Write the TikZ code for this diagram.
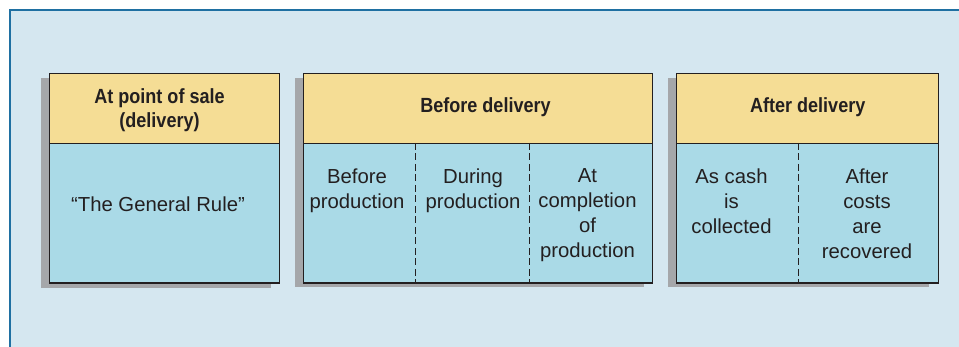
\documentclass[tikz,border=0pt]{standalone}
\usepackage{fontspec}
\setmainfont{Liberation Sans}
\newfontfamily\hdrfont[FakeStretch=0.88]{Liberation Sans}
\definecolor{panelfill}{HTML}{D5E7F0}
\definecolor{panelline}{HTML}{1F70A2}
\definecolor{hdrfill}{HTML}{F5DD95}
\definecolor{bodyfill}{HTML}{AADAE7}
\definecolor{shadowc}{HTML}{A5A7AA}
\definecolor{inkc}{HTML}{231F20}
\begin{document}
\begin{tikzpicture}[x=1pt,y=-1pt,
  hdr/.style={draw=inkc, line width=1.1pt, fill=hdrfill, anchor=north west, inner sep=0pt, minimum height=70pt},
  bodybox/.style={draw=inkc, line width=1.1pt, fill=bodyfill, anchor=north west, inner sep=0pt, minimum height=139.5pt},
  hdrtext/.style={font=\hdrfont\bfseries\fontsize{20.5}{24.5}\selectfont, text=inkc, align=center, inner sep=0pt},
  bodytext/.style={font=\fontsize{20.3}{25}\selectfont, text=inkc, align=center, inner sep=0pt, anchor=north},
  divider/.style={draw=inkc, line width=1.2pt, dash pattern=on 7pt off 3.5pt},
  shadowbox/.style={fill=shadowc}]
\useasboundingbox (0,0) rectangle (959,347);
\fill[white] (0,0) rectangle (959,347);
\fill[panelfill] (10,10) rectangle (959,347);
\draw[panelline, line width=1.8pt] (10,347) -- (10,10) -- (959,10);

% shadows
\fill[shadowbox] (41,78) rectangle (271,288);
\fill[shadowbox] (294.5,78) rectangle (644,287.5);
\fill[shadowbox] (668,78) rectangle (929,287.5);

% box 1
\node[hdr, minimum width=230pt] (h1) at (49,73) {};
\node[bodybox, minimum width=230pt] (b1) at (49,143) {};
\node[hdrtext, anchor=north] (t1) at (159.5,88) {At point of sale\\(delivery)};
\node[bodytext, anchor=base] (r1) at (158,212) {\textquotedblleft The General Rule\textquotedblright};

% box 2
\node[hdr, minimum width=349.5pt] (h2) at (302.5,73) {};
\node[bodybox, minimum width=349.5pt] (b2) at (302.5,143) {};
\node[hdrtext, anchor=base] (t2) at (485.5,112.7) {Before delivery};
\coordinate (d2a) at (415.3,143);
\coordinate (d2b) at (415.3,282.5);
\coordinate (d2c) at (529.3,143);
\coordinate (d2d) at (529.3,282.5);
\draw[divider] (d2a) -- (d2b);
\draw[divider] (d2c) -- (d2d);
\node[bodytext] (c21) at (357,168.5) {Before\\production};
\node[bodytext] (c22) at (473,168.5) {During\\production};
\node[bodytext] (c23) at (587.5,168.5) {At\\completion\\of\\production};

% box 3
\node[hdr, minimum width=261.5pt] (h3) at (676,73) {};
\node[bodybox, minimum width=261.5pt] (b3) at (676,143) {};
\node[hdrtext, anchor=base] (t3) at (807.7,112.7) {After delivery};
\coordinate (d3a) at (798.7,143);
\coordinate (d3b) at (798.7,282.5);
\draw[divider] (d3a) -- (d3b);
\node[bodytext] (c31) at (731.5,168.5) {As cash\\is\\collected};
\node[bodytext] (c32) at (867,168.5) {After\\costs\\are\\recovered};
\end{tikzpicture}
\end{document}
